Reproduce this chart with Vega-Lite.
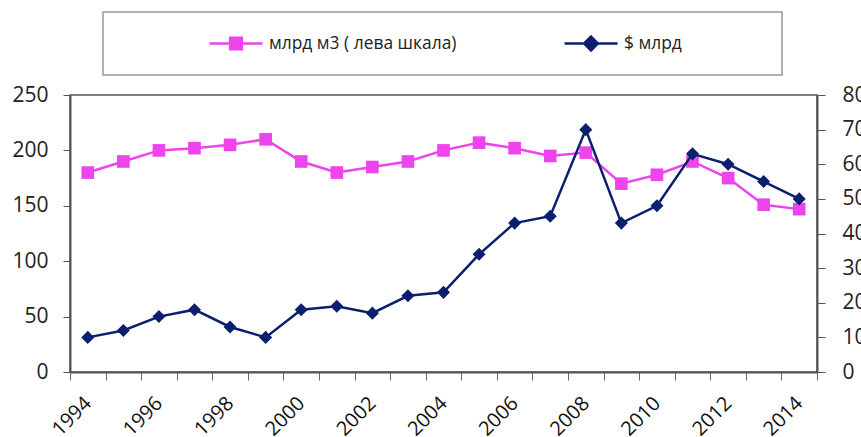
{
  "$schema": "https://vega.github.io/schema/vega-lite/v6.json",
  "width": 747,
  "height": 277,
  "autosize": {"type": "none"},
  "padding": {"left": 70, "top": 95, "right": 44, "bottom": 65},
  "background": "white",
  "config": {"view": {"stroke": "#555", "strokeWidth": 1.5}, "font": "Open Sans"},
  "data": {
    "values": [
      {"year": 1994, "gas": 180, "usd": 10},
      {"year": 1995, "gas": 190, "usd": 12},
      {"year": 1996, "gas": 200, "usd": 16},
      {"year": 1997, "gas": 202, "usd": 18},
      {"year": 1998, "gas": 205, "usd": 13},
      {"year": 1999, "gas": 210, "usd": 10},
      {"year": 2000, "gas": 190, "usd": 18},
      {"year": 2001, "gas": 180, "usd": 19},
      {"year": 2002, "gas": 185, "usd": 17},
      {"year": 2003, "gas": 190, "usd": 22},
      {"year": 2004, "gas": 200, "usd": 23},
      {"year": 2005, "gas": 207, "usd": 34},
      {"year": 2006, "gas": 202, "usd": 43},
      {"year": 2007, "gas": 195, "usd": 45},
      {"year": 2008, "gas": 198, "usd": 70},
      {"year": 2009, "gas": 170, "usd": 43},
      {"year": 2010, "gas": 178, "usd": 48},
      {"year": 2011, "gas": 190, "usd": 63},
      {"year": 2012, "gas": 175, "usd": 60},
      {"year": 2013, "gas": 151, "usd": 55},
      {"year": 2014, "gas": 147, "usd": 50}
    ]
  },
  "encoding": {
    "x": {
      "field": "year",
      "type": "ordinal",
      "bandPosition": 0.5,
      "scale": {"type": "band", "paddingInner": 0, "paddingOuter": 0},
      "axis": {
        "title": null,
        "tickBand": "extent",
        "labelAngle": -45,
        "labelAlign": "right",
        "labelBaseline": "middle",
        "labelExpr": "datum.value % 2 == 0 ? datum.label : ''",
        "labelOverlap": false,
        "labelFont": "Open Sans",
        "labelFontSize": 20,
        "labelColor": "#111",
        "labelPadding": 20,
        "tickSize": 8,
        "tickColor": "#666",
        "tickWidth": 1,
        "domainColor": "#555",
        "domainWidth": 2
      }
    }
  },
  "layer": [
    {
      "encoding": {
        "y": {
          "field": "gas",
          "type": "quantitative",
          "scale": {"domain": [0, 250], "nice": false},
          "axis": {
            "title": null,
            "values": [0, 50, 100, 150, 200, 250],
            "grid": false,
            "labelFont": "Open Sans",
            "labelFontSize": 21,
            "labelColor": "#222",
            "labelPadding": 15,
            "tickSize": 7,
            "tickColor": "#555",
            "domainColor": "#555",
            "domainWidth": 2
          }
        },
        "color": {
          "datum": "млрд м3 ( лева шкала)",
          "type": "nominal",
          "scale": {"domain": ["млрд м3 ( лева шкала)", "$ млрд"], "range": ["#EE44EE", "#0B1F6E"]},
          "legend": {
            "orient": "none",
            "legendX": 33,
            "legendY": -83,
            "direction": "horizontal",
            "title": " ",
            "titleOrient": "right",
            "titleFontSize": 1,
            "titlePadding": 96,
            "padding": 4,
            "strokeColor": "#999",
            "fillColor": "white",
            "symbolSize": 2809,
            "symbolStrokeWidth": 2.5,
            "symbolOffset": 101,
            "clipHeight": 55,
            "labelFont": "Open Sans",
            "labelFontSize": 17.4,
            "labelColor": "#222",
            "labelOffset": 5,
            "labelLimit": 600,
            "columnPadding": 5,
            "encode": {
              "legend": {"update": {"strokeWidth": {"value": 1.5}}},
              "symbols": {
                "update": {
                  "shape": {"signal": "datum.value === '$ млрд' ? 'M-1,0H1M0,-0.26L0.26,0L0,0.26L-0.26,0Z' : 'M-1,0H1M-0.22,-0.22H0.22V0.22H-0.22Z'"},
                  "fill": {"signal": "datum.value === '$ млрд' ? '#0B1F6E' : '#EE44EE'"},
                  "stroke": {"signal": "datum.value === '$ млрд' ? '#0B1F6E' : '#EE44EE'"},
                  "strokeWidth": {"value": 2.5},
                  "opacity": {"value": 1}
                }
              }
            }
          }
        }
      },
      "layer": [
        {"mark": {"type": "line", "strokeWidth": 2.5}},
        {"mark": {"type": "point", "shape": "square", "filled": true, "size": 160, "opacity": 1}}
      ]
    },
    {
      "encoding": {
        "y": {
          "field": "usd",
          "type": "quantitative",
          "scale": {"domain": [0, 80], "nice": false},
          "axis": {
            "orient": "right",
            "title": null,
            "values": [0, 10, 20, 30, 40, 50, 60, 70, 80],
            "grid": false,
            "labelFont": "Open Sans",
            "labelFontSize": 21,
            "labelColor": "#222",
            "labelPadding": 17,
            "tickSize": 8,
            "tickColor": "#555",
            "domainColor": "#555",
            "domainWidth": 2
          }
        },
        "color": {"datum": "$ млрд", "type": "nominal"}
      },
      "layer": [
        {"mark": {"type": "line", "strokeWidth": 2.5}},
        {"mark": {"type": "point", "shape": "diamond", "filled": true, "size": 170, "opacity": 1}}
      ]
    }
  ],
  "resolve": {"scale": {"y": "independent"}}
}
